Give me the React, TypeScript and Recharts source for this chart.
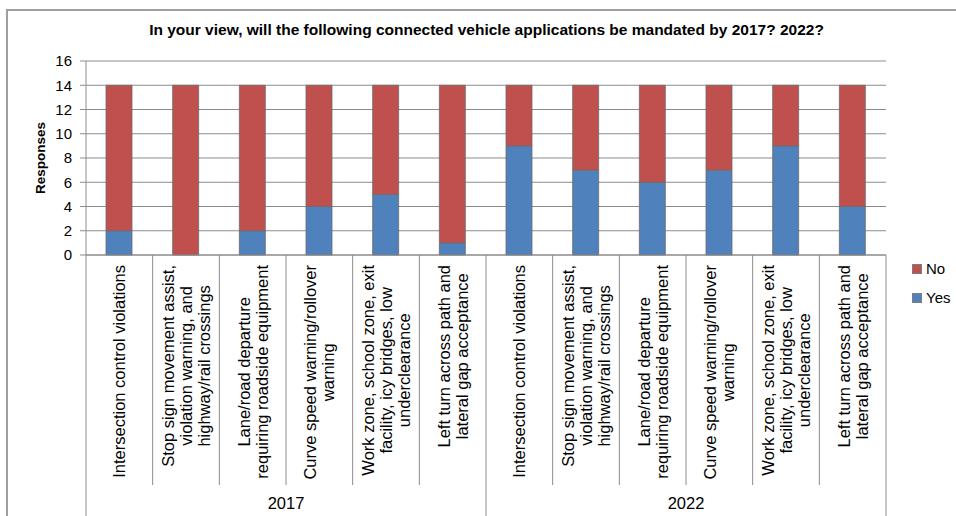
import React from "react";
import { BarChart, Bar, XAxis, YAxis, CartesianGrid, Legend } from "recharts";

const years = ["2017", "2022"];
const appLabels: string[][] = [
  ["Intersection control violations"],
  ["Stop sign movement assist,", "violation warning, and", "highway/rail crossings"],
  ["Lane/road departure", "requiring roadside equipment"],
  ["Curve speed warning/rollover", "warning"],
  ["Work zone, school zone, exit", "facility, icy bridges, low", "underclearance"],
  ["Left turn across path and", "lateral gap acceptance"],
];
const yesValues = [2, 0, 2, 4, 5, 1, 9, 7, 6, 7, 9, 4];
const noValues = [12, 14, 12, 10, 9, 13, 5, 7, 8, 7, 5, 10];
const yTicks = [0, 2, 4, 6, 8, 10, 12, 14, 16];
const title =
  "In your view, will the following connected vehicle applications be mandated by 2017? 2022?";

const data = years.flatMap((yr, g) =>
  appLabels.map((lines, i) => ({
    key: `${yr}-${i}`,
    year: yr,
    lines,
    Yes: yesValues[g * appLabels.length + i],
    No: noValues[g * appLabels.length + i],
  }))
);

const W = 956;
const H = 516;
const M_TOP = 61;
const PLOT_RIGHT_GAP = 70;
const LEGEND_W = 44;
const Y_W = 86;
const X_H = 261;
const PLOT_W = W - Y_W - PLOT_RIGHT_GAP;
const BW = PLOT_W / data.length;
const FONT = '"Liberation Sans", Arial, sans-serif';
const GRID = "#8c8c8c";
const LABEL_SIZE = 16.5;
const LINE_H = 18.3;

let canvasCtx: CanvasRenderingContext2D | null = null;
function measure(text: string, font: string) {
  if (!canvasCtx) {
    const c = document.createElement("canvas");
    canvasCtx = c.getContext("2d");
  }
  if (!canvasCtx) return text.length * 8;
  canvasCtx.font = font;
  return canvasCtx.measureText(text).width;
}

function CategoryTick(props: any) {
  const { x, y, index } = props;
  const row = data[index];
  if (!row) return null;
  const lines = row.lines;
  const n = lines.length;
  const maxW = Math.max(...lines.map((l: string) => measure(l, `${LABEL_SIZE}px "Liberation Sans"`)));
  const groupSize = appLabels.length;
  const isGroupStart = index % groupSize === 0;
  const isLast = index === data.length - 1;
  const shortLen = 230;
  const longLen = H - y;
  return (
    <g>
      <line
        x1={x - BW / 2}
        x2={x - BW / 2}
        y1={y}
        y2={y + (isGroupStart ? longLen : shortLen)}
        stroke={GRID}
        strokeWidth={1}
      />
      {isLast && (
        <line x1={x + BW / 2} x2={x + BW / 2} y1={y} y2={y + longLen} stroke={GRID} strokeWidth={1} />
      )}
      {lines.map((l: string, i: number) => {
        const lx = x + (i - (n - 1) / 2) * LINE_H;
        const ly = y + 10 + maxW / 2;
        return (
          <text
            key={i}
            transform={`translate(${lx}, ${ly}) rotate(-90)`}
            textAnchor="middle"
            dominantBaseline="central"
            fontFamily={FONT}
            fontSize={LABEL_SIZE}
            fill="#000"
          >
            {l}
          </text>
        );
      })}
      {index % groupSize === Math.floor(groupSize / 2) - 1 && (
        <text
          x={x + BW / 2}
          y={y + 248}
          textAnchor="middle"
          dominantBaseline="central"
          fontFamily={FONT}
          fontSize={LABEL_SIZE}
          fill="#000"
        >
          {row.year}
        </text>
      )}
    </g>
  );
}

function LegendContent() {
  const items = [
    { name: "No", color: "#C0504D" },
    { name: "Yes", color: "#4F81BD" },
  ];
  return (
    <div style={{ fontFamily: FONT, fontSize: 15, color: "#000" }}>
      {items.map((it) => (
        <div key={it.name} style={{ display: "flex", alignItems: "center", height: 29 }}>
          <span
            style={{
              display: "inline-block",
              width: 8,
              height: 8,
              background: it.color,
              border: "1px solid #7f7f7f",
              marginRight: 4,
            }}
          />
          <span>{it.name}</span>
        </div>
      ))}
    </div>
  );
}

export default function App() {
  return (
    <div style={{ position: "absolute", left: 0, top: 0, width: W, height: H, background: "#fff", overflow: "hidden" }}>
      <div
        style={{
          position: "absolute",
          left: 6,
          top: 9,
          width: W,
          height: H,
          border: "2px solid #a0a0a0",
          boxSizing: "border-box",
        }}
      />
      <div
        style={{
          position: "absolute",
          left: 0,
          width: 973,
          top: 21,
          textAlign: "center",
          fontFamily: FONT,
          fontWeight: "bold",
          fontSize: 15.5,
          color: "#000",
          whiteSpace: "nowrap",
        }}
      >
        {title}
      </div>
      <div style={{ position: "absolute", left: 0, top: 0 }}>
        <BarChart
          width={W}
          height={H}
          data={data}
          margin={{ top: M_TOP, right: PLOT_RIGHT_GAP - LEGEND_W, left: 0, bottom: 0 }}
          barSize={26}
        >
          <CartesianGrid vertical={false} stroke={GRID} strokeWidth={1} />
          <XAxis
            dataKey="key"
            interval={0}
            height={X_H}
            tickSize={0}
            tickMargin={0}
            tickLine={false}
            axisLine={{ stroke: GRID }}
            tick={<CategoryTick />}
          />
          <YAxis
            width={Y_W}
            domain={[0, 16]}
            ticks={yTicks}
            interval={0}
            tickSize={6}
            tickMargin={8}
            tickLine={{ stroke: GRID }}
            axisLine={{ stroke: GRID }}
            tick={{ fontFamily: FONT, fontSize: 15, fill: "#000" }}
            label={(p: any) => {
              const vb = p.viewBox || {};
              const cy = (vb.y ?? M_TOP) + (vb.height ?? 194) / 2;
              return (
                <text
                  transform={`translate(40, ${cy}) rotate(-90)`}
                  textAnchor="middle"
                  dominantBaseline="central"
                  fontFamily={FONT}
                  fontWeight="bold"
                  fontSize={13.5}
                  fill="#000"
                >
                  Responses
                </text>
              );
            }}
          />
          <Legend
            layout="horizontal"
            align="right"
            verticalAlign="middle"
            content={<LegendContent />}
            wrapperStyle={{ position: "absolute", left: 912, top: 254, width: LEGEND_W }}
          />
          <Bar dataKey="Yes" stackId="a" fill="#4F81BD" stroke="#6b6b6b" strokeWidth={0.8} isAnimationActive={false} />
          <Bar dataKey="No" stackId="a" fill="#C0504D" stroke="#6b6b6b" strokeWidth={0.8} isAnimationActive={false} />
        </BarChart>
      </div>
    </div>
  );
}
